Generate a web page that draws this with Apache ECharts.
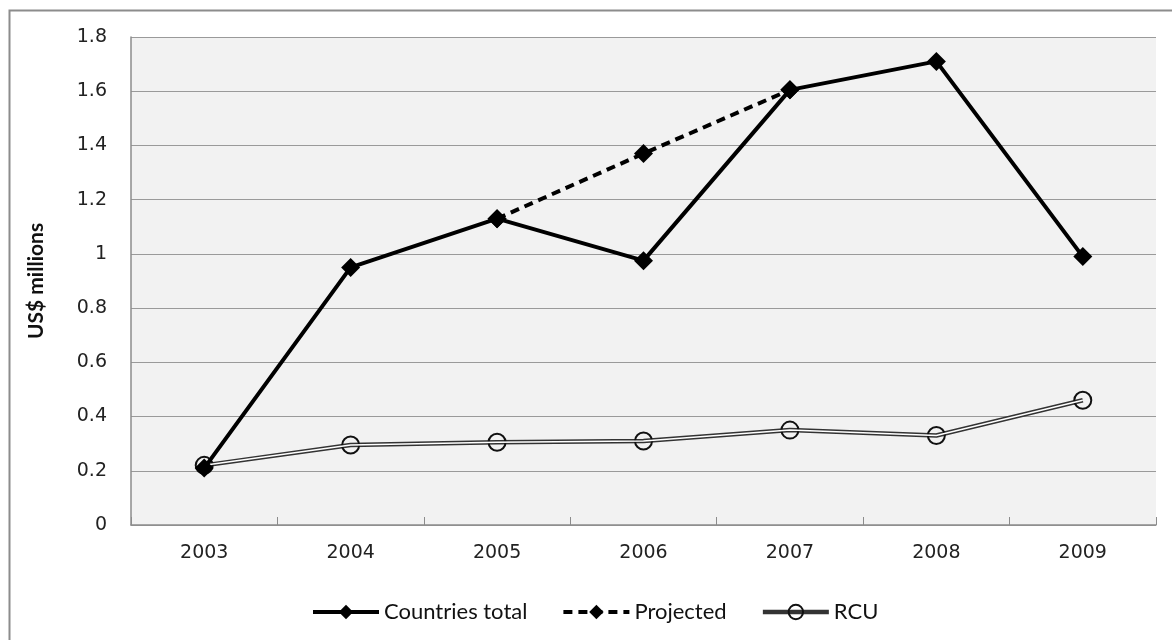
<!DOCTYPE html>
<html>
<head>
<meta charset="utf-8">
<script src="https://cdn.jsdelivr.net/npm/echarts@6/dist/echarts.min.js"></script>
<style>html,body{margin:0;padding:0;background:#fff}#c{width:1172px;height:640px}</style>
</head>
<body>
<div id="c"></div>
<script>
const years = ['2003','2004','2005','2006','2007','2008','2009'];
const countriesTotal = [0.21, 0.95, 1.13, 0.975, 1.605, 1.71, 0.99];
const projected = [null, null, 1.13, 1.37, 1.605, null, null];
const rcu = [0.22, 0.295, 0.305, 0.31, 0.35, 0.33, 0.46];

const chart = echarts.init(document.getElementById('c'));
chart.setOption({
  animation: false,
  backgroundColor: '#ffffff',
  graphic: [{
    type: 'rect', left: 7, top: 8, z: -10,
    shape: { x: 0, y: 0, width: 1200, height: 700 },
    style: { fill: 'none', stroke: '#8c8c8c', lineWidth: 2 }
  }],
  grid: { left: 131, right: 16, top: 37, bottom: 115, show: true, backgroundColor: '#f2f2f2', borderWidth: 0 },
  legend: {
    bottom: 12, left: 306,
    itemWidth: 66, itemHeight: 18, itemGap: 34,
    data: [
      { name: 'Countries total', lineStyle: { width: 4 } },
      { name: 'Projected', lineStyle: { width: 4 } },
      { name: 'RCU', lineStyle: { width: 4.5 } }
    ],
    textStyle: { fontFamily: 'Lato', fontSize: 22, color: '#111' }
  },
  xAxis: {
    type: 'category', data: years, boundaryGap: true,
    axisLine: { lineStyle: { color: '#8c8c8c', width: 1.5 } },
    axisTick: { show: true, inside: true, length: 8, lineStyle: { color: '#8c8c8c' } },
    axisLabel: { fontFamily: 'DejaVu Sans', fontSize: 19, color: '#222', margin: 19 }
  },
  yAxis: {
    type: 'value', min: 0, max: 1.8, interval: 0.2,
    name: 'US$ millions', nameLocation: 'middle', nameGap: 84, nameRotate: 90,
    nameTextStyle: { fontFamily: 'Lato', fontWeight: 'bold', fontSize: 21, color: '#111' },
    axisLine: { show: true, lineStyle: { color: '#8c8c8c', width: 1.5 } },
    axisTick: { show: false },
    splitLine: { lineStyle: { color: '#9a9a9a', width: 1.2 } },
    axisLabel: { fontFamily: 'DejaVu Sans', fontSize: 19, color: '#222', margin: 24 }
  },
  series: [
    {
      name: 'Projected', type: 'line', data: projected, z: 3,
      symbol: 'diamond', symbolSize: 19,
      lineStyle: { color: '#000', width: 4, type: [9, 6] },
      itemStyle: { color: '#000' }
    },
    {
      name: 'Countries total', type: 'line', data: countriesTotal, z: 4,
      symbol: 'diamond', symbolSize: 19,
      lineStyle: { color: '#000', width: 4 },
      itemStyle: { color: '#000' }
    },
    {
      name: 'RCU', type: 'line', data: rcu, z: 2,
      symbol: 'circle', symbolSize: 17,
      lineStyle: { color: '#333', width: 4.5 },
      itemStyle: { color: 'rgba(242,242,242,0)', borderColor: '#111', borderWidth: 2 }
    },
    {
      name: 'RCU_inner', type: 'line', data: rcu, z: 2.5,
      symbol: 'none', silent: true,
      lineStyle: { color: '#ffffff', width: 1.5 }
    }
  ]
});
</script>
</body>
</html>
